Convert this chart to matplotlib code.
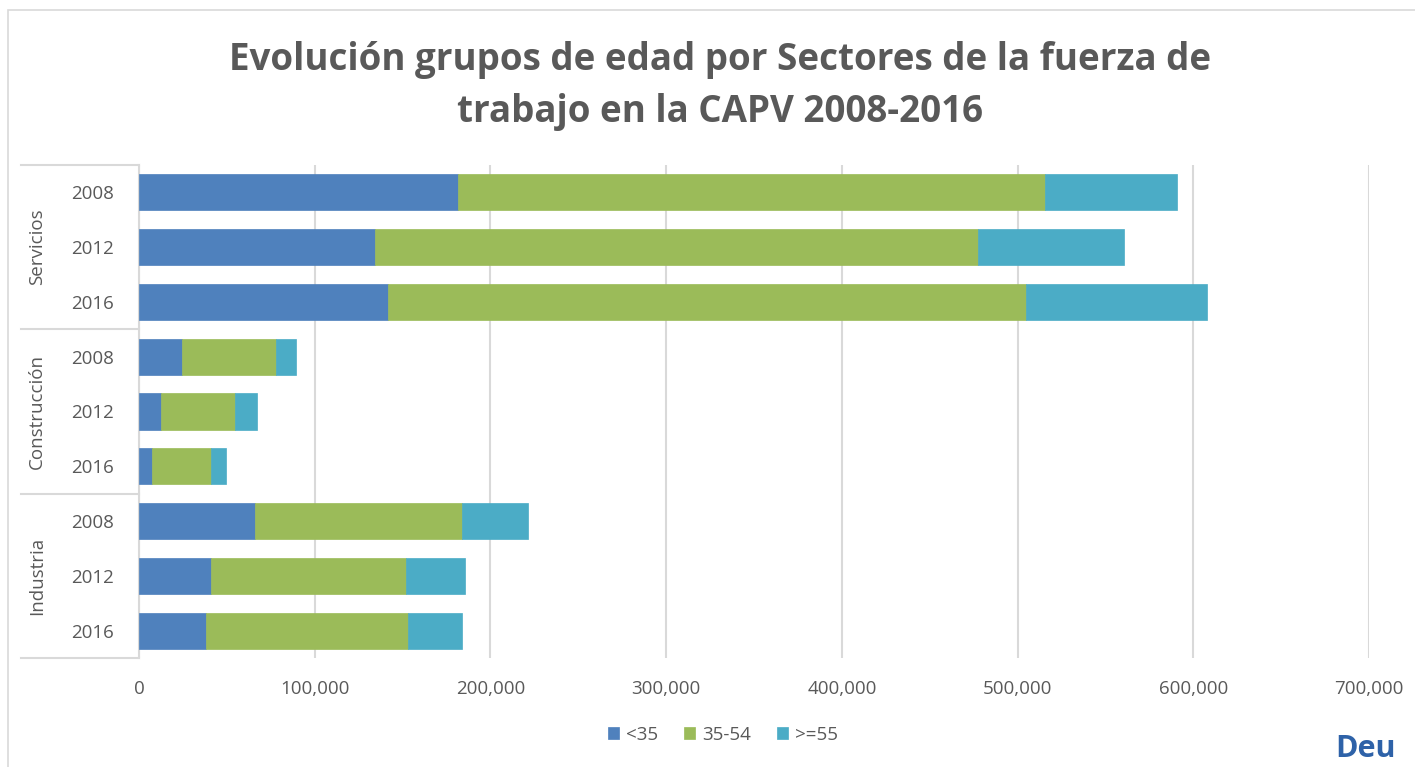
import matplotlib
matplotlib.use("Agg")
import numpy as np
from matplotlib import pyplot as plt
from matplotlib.lines import Line2D
from matplotlib.patches import Rectangle
from matplotlib.ticker import FuncFormatter

plt.rcParams['font.family'] = ['Open Sans', 'DejaVu Sans']

sectors = ["Servicios", "Construcción", "Industria"]
years = ["2008", "2012", "2016"]
series_names = ["<35", "35-54", ">=55"]

# values per row, rows ordered Servicios 2008..2016, Construcción..., Industria...
under35 = [181800, 134300, 141500, 24300, 12500, 7200, 66000, 41000, 38000]
mid35_54 = [333700, 343400, 363300, 53500, 42100, 33800, 117700, 111100, 115300]
over55 = [75500, 82900, 103000, 11400, 12600, 8300, 37900, 33600, 30400]

colors = ["#4f81bd", "#9bbb59", "#4bacc6"]
grey = "#595959"
light = "#d9d9d9"

fig = plt.figure(figsize=(14.15, 7.67), dpi=100)
ax = fig.add_axes([139/1415, 1-658/767, 1230/1415, 493/767])

y = np.arange(len(under35))
left = np.zeros(len(y))
for vals, c, name in zip([under35, mid35_54, over55], colors, series_names):
    ax.barh(y, vals, left=left, height=0.66, color=c, edgecolor=c, linewidth=0.5, label=name, zorder=3)
    left += np.array(vals)

ax.set_xlim(0, 700000)
ax.set_ylim(len(y) - 0.5, -0.5)
ax.set_xticks(np.arange(0, 700001, 100000))
ax.xaxis.set_major_formatter(FuncFormatter(lambda v, p: f"{int(v):,}"))
ax.grid(axis='x', color=light, linewidth=1.5, zorder=0)
ax.tick_params(axis='x', length=0, pad=16, labelsize=13.5, labelcolor=grey)

ax.set_yticks(y)
ax.set_yticklabels(years * len(sectors))
ax.tick_params(axis='y', length=0, pad=18, labelsize=13.5, labelcolor=grey)

for s in ['top', 'right', 'bottom']:
    ax.spines[s].set_visible(False)
ax.spines['left'].set_color(light)
ax.spines['left'].set_linewidth(1.5)

# multi-level category axis: group labels and dividers
tr = ax.get_yaxis_transform()
x0 = (21 - 139) / 1230
for i, sec in enumerate(sectors):
    ax.text((37 - 139) / 1230, i * 3 + 1, sec, transform=tr, rotation=90,
            ha='center', va='center', fontsize=13.5, color=grey)
for yy in [-0.5, 2.5, 5.5, 8.5]:
    ax.add_line(Line2D([x0, 0], [yy, yy], transform=tr, color=light,
                       linewidth=1.5, clip_on=False))

# title
fig.text(720/1415, 1-86/767, "Evolución grupos de edad por Sectores de la fuerza de\ntrabajo en la CAPV 2008-2016",
         ha='center', va='center', fontsize=26.5, fontweight='bold', color=grey, linespacing=1.5)

# legend
fig.legend(loc='center', bbox_to_anchor=(723/1415, 1-735/767), ncol=3, frameon=False,
           fontsize=13.5, handlelength=0.6, handleheight=0.6, handletextpad=0.35,
           columnspacing=1.4, labelcolor=grey)

# chart frame
fig.patches.append(Rectangle((8/1415, -0.1), 1.2, 1.1 - 10/767, transform=fig.transFigure,
                             fill=False, edgecolor=light, linewidth=1.2))

# logo fragment
fig.text(1335/1415, 1-757/767, "Deu", ha='left', va='baseline', fontsize=22,
         fontweight='bold', color="#2e62a8")

fig.savefig("out.png", dpi=100)
